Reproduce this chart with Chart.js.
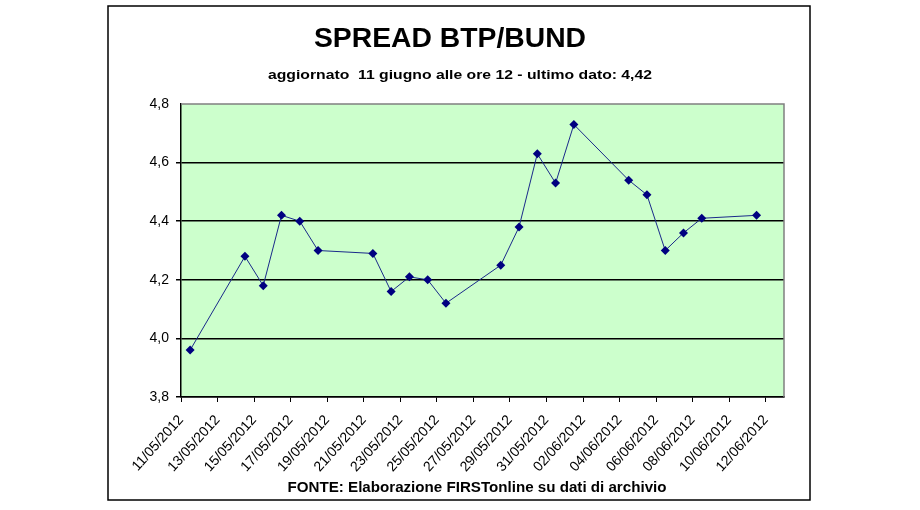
<!DOCTYPE html>
<html>
<head>
<meta charset="utf-8">
<script src="https://cdn.jsdelivr.net/npm/chart.js@4.4.1/dist/chart.umd.min.js"></script>
<style>
html,body{margin:0;padding:0;background:#fff;}
#wrap{position:relative;width:920px;height:510px;}
</style>
</head>
<body>
<div id="wrap"><canvas id="c" width="920" height="510"></canvas></div>
<script>
const dates = ['11/05/2012','14/05/2012','15/05/2012','16/05/2012','17/05/2012','18/05/2012','21/05/2012','22/05/2012','23/05/2012','24/05/2012','25/05/2012','28/05/2012','29/05/2012','30/05/2012','31/05/2012','01/06/2012','04/06/2012','05/06/2012','06/06/2012','07/06/2012','08/06/2012','11/06/2012'];
const spread = [3.96,4.28,4.18,4.42,4.40,4.30,4.29,4.16,4.21,4.20,4.12,4.25,4.38,4.63,4.53,4.73,4.54,4.49,4.30,4.36,4.41,4.42];
const tickLabels = ['11/05/2012','13/05/2012','15/05/2012','17/05/2012','19/05/2012','21/05/2012','23/05/2012','25/05/2012','27/05/2012','29/05/2012','31/05/2012','02/06/2012','04/06/2012','06/06/2012','08/06/2012','10/06/2012','12/06/2012'];
const yTicks = [3.8,4.0,4.2,4.4,4.6,4.8];
const titleText = 'SPREAD BTP/BUND';
const subtitleText = 'aggiornato  11 giugno alle ore 12 - ultimo dato: 4,42';
const footerText = 'FONTE: Elaborazione FIRSTonline su dati di archivio';

function dayNum(s){const p=s.split('/');return Date.UTC(+p[2],+p[1]-1,+p[0])/86400000;}
const d0 = dayNum(tickLabels[0]);
const points = dates.map((d,i)=>({x: dayNum(d)-d0+0.5, y: spread[i]}));

const FONT = 'Arial, "Liberation Sans", sans-serif';
Chart.defaults.font.family = FONT;
Chart.defaults.color = '#000';

function stretchText(ctx, text, font, cx, cy, targetW){
  ctx.save();
  ctx.font = font;
  const w = ctx.measureText(text).width;
  const s = targetW / w;
  ctx.translate(cx, cy);
  ctx.scale(s, 1);
  ctx.textAlign='center';ctx.textBaseline='middle';
  ctx.fillText(text, 0, 0);
  ctx.restore();
}

const decor = {
  id:'decor',
  beforeDraw(chart){
    const {ctx, chartArea:a} = chart;
    ctx.save();
    ctx.fillStyle='#fff';ctx.fillRect(0,0,chart.width,chart.height);
    ctx.fillStyle='#CCFFCC';
    ctx.fillRect(a.left,a.top,a.right-a.left,a.bottom-a.top);
    ctx.restore();
  },
  afterDraw(chart){
    const {ctx, chartArea:a} = chart;
    ctx.save();
    ctx.strokeStyle='#808080';ctx.lineWidth=1.5;
    ctx.beginPath();ctx.moveTo(a.left,a.top);ctx.lineTo(a.right,a.top);ctx.lineTo(a.right,a.bottom);ctx.stroke();
    ctx.strokeStyle='#000';ctx.lineWidth=1.5;
    ctx.strokeRect(108,6,702,494);
    ctx.fillStyle='#000';
    stretchText(ctx, titleText, 'bold 27px '+FONT, 450, 40, 272);
    stretchText(ctx, subtitleText, 'bold 13px '+FONT, 460, 75, 384);
    stretchText(ctx, footerText, 'bold 14px '+FONT, 477, 488, 379);
    ctx.restore();
  }
};

new Chart(document.getElementById('c'),{
  type:'line',
  data:{datasets:[{
    data:points,
    borderColor:'#1a2a8a',
    borderWidth:1,
    backgroundColor:'#000080',
    pointStyle:'rectRot',
    pointRadius:4.5,
    pointBorderWidth:0,
    tension:0
  }]},
  options:{
    responsive:false,
    animation:false,
    devicePixelRatio:1,
    layout:{padding:{left:131,right:136,top:104,bottom:13}},
    plugins:{legend:{display:false},tooltip:{enabled:false}},
    scales:{
      x:{
        type:'linear',min:0,max:33,
        afterFit(s){s.height=100;},
        afterBuildTicks(s){s.ticks=tickLabels.map((_,i)=>({value:2*i}));},
        ticks:{callback:(v)=>tickLabels[Math.round(v/2)],minRotation:48,maxRotation:48,autoSkip:false,font:{size:14},padding:10},
        grid:{drawOnChartArea:false,color:'#000',tickLength:5,lineWidth:1},
        border:{color:'#000',width:1.5}
      },
      y:{
        min:3.8,max:4.8,
        afterFit(s){s.width=50;},
        afterBuildTicks(s){s.ticks=yTicks.map(v=>({value:v}));},
        ticks:{callback:(v)=>v.toFixed(1).replace('.',','),font:{size:14},padding:7},
        grid:{color:(c)=>c.tick && c.tick.value>=4.79?'rgba(0,0,0,0)':'#000',lineWidth:1.5,tickLength:5},
        border:{color:'#000',width:1.5}
      }
    }
  },
  plugins:[decor]
});
</script>
</body>
</html>
